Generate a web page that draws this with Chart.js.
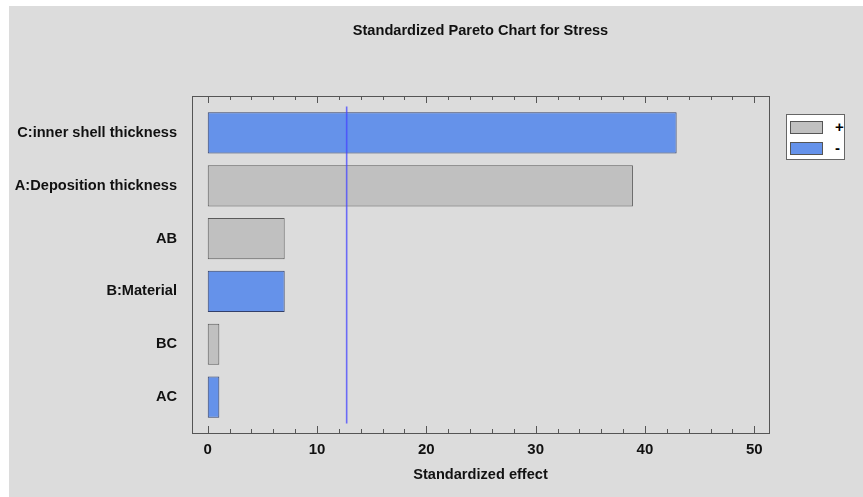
<!DOCTYPE html>
<html>
<head>
<meta charset="utf-8">
<script src="https://cdn.jsdelivr.net/npm/chart.js@4/dist/chart.umd.min.js"></script>
<style>
  html, body { margin: 0; padding: 0; background: #fff; }
  #wrap { position: absolute; left: 0; top: 0; width: 863px; height: 497px; }
  #bg { position: absolute; left: 9px; top: 6px; right: 0; bottom: 0; background: #dcdcdc; }
  canvas { position: absolute; left: 0; top: 0; }
  #legend {
    position: absolute; left: 786px; top: 114px; width: 59px; height: 46px;
    background: #fff; border: 1px solid #666; box-sizing: border-box;
    font: bold 15px "Liberation Sans", Arial, sans-serif;
  }
  #legend .row { position: absolute; left: 3px; height: 14px; }
  #legend .sw { position: absolute; left: 0; top: 0; width: 33px; height: 13px; border: 1px solid #555; box-sizing: border-box; }
  #legend .tx { position: absolute; left: 45px; top: -3px; }
</style>
</head>
<body>
<div id="wrap">
  <div id="bg"></div>
  <canvas id="c" width="863" height="497"></canvas>
  <div id="legend">
    <div class="row" style="top:6px"><div class="sw" style="background:#c0c0c0"></div><div class="tx">+</div></div>
    <div class="row" style="top:27px"><div class="sw" style="background:#6592ea"></div><div class="tx">-</div></div>
  </div>
</div>
<script>
const TITLE = 'Standardized Pareto Chart for Stress';
const X_TITLE = 'Standardized effect';
const effects = ['C:inner shell thickness', 'A:Deposition thickness', 'AB', 'B:Material', 'BC', 'AC'];
const values = [42.9, 38.9, 7.04, 7.04, 1.06, 1.06];
const signs = ['-', '+', '+', '-', '+', '-'];
const xTicks = [0, 10, 20, 30, 40, 50];
const refLine = 12.71;

const FONT = '"Liberation Sans", Arial, sans-serif';
const POS = '#c0c0c0', NEG = '#6592ea';

// frame, inward ticks, reference line and title
const deco = {
  id: 'deco',
  afterDatasetsDraw(chart){
    const {ctx, chartArea: a, scales} = chart;
    const x = scales.x, y = scales.y;
    ctx.save();
    // reference line
    ctx.strokeStyle = 'rgba(70,70,255,0.75)';
    ctx.lineWidth = 1.6;
    const rx = x.getPixelForValue(refLine);
    ctx.beginPath();
    ctx.moveTo(rx, y.getPixelForValue(-0.5));
    ctx.lineTo(rx, y.getPixelForValue(5.5));
    ctx.stroke();
    // frame
    ctx.strokeStyle = '#555';
    ctx.lineWidth = 1;
    ctx.strokeRect(Math.round(a.left) + 0.5, Math.round(a.top) + 0.5, Math.round(a.right - a.left), Math.round(a.bottom - a.top));
    // ticks
    ctx.beginPath();
    for (let v = 0; v <= 50; v += 2){
      const px = Math.round(x.getPixelForValue(v)) + 0.5;
      const len = v % 10 === 0 ? 7 : 4;
      ctx.moveTo(px, a.bottom); ctx.lineTo(px, a.bottom - len);
      ctx.moveTo(px, a.top); ctx.lineTo(px, a.top + len);
    }
    ctx.stroke();
    // title
    ctx.fillStyle = '#111';
    ctx.font = 'bold 14.6px ' + FONT;
    ctx.textAlign = 'center';
    ctx.textBaseline = 'middle';
    ctx.fillText(TITLE, (a.left + a.right) / 2, 31);
    ctx.restore();
  }
};

new Chart(document.getElementById('c'), {
  type: 'bar',
  data: {
    datasets: [{
      data: values.map((v, i) => ({ x: v, y: i })),
      backgroundColor: signs.map(s => s === '+' ? POS : NEG),
      borderColor: signs.map(s => s === '+' ? '#5a5a5a' : '#33406a'),
      borderWidth: 1,
      borderSkipped: false,
      barPercentage: 0.78,
      categoryPercentage: 1
    }]
  },
  options: {
    indexAxis: 'y',
    responsive: false,
    animation: false,
    layout: { padding: { top: 96, right: 94, left: 0, bottom: 13 } },
    plugins: { legend: { display: false }, tooltip: { enabled: false } },
    scales: {
      x: {
        type: 'linear', min: -1.44, max: 51.35, offset: false,
        afterBuildTicks: s => { s.ticks = xTicks.map(v => ({ value: v })); },
        afterFit: s => { s.height = 51; },
        grid: { display: false, drawTicks: false },
        border: { display: false },
        ticks: { color: '#111', font: { family: FONT, size: 15, weight: 'bold' }, padding: 8, maxRotation: 0 },
        title: { display: true, text: X_TITLE, color: '#111', font: { family: FONT, size: 14.6, weight: 'bold' }, padding: { top: 0, bottom: 0 } }
      },
      y: {
        type: 'linear', reverse: true, min: -0.7, max: 5.68, offset: false,
        afterBuildTicks: s => { s.ticks = effects.map((_, i) => ({ value: i })); },
        afterFit: s => { s.width = 192; },
        grid: { display: false, drawTicks: false },
        border: { display: false },
        ticks: { color: '#111', font: { family: FONT, size: 14.6, weight: 'bold' }, padding: 15, callback: v => effects[v] }
      }
    }
  },
  plugins: [deco]
});
</script>
</body>
</html>
